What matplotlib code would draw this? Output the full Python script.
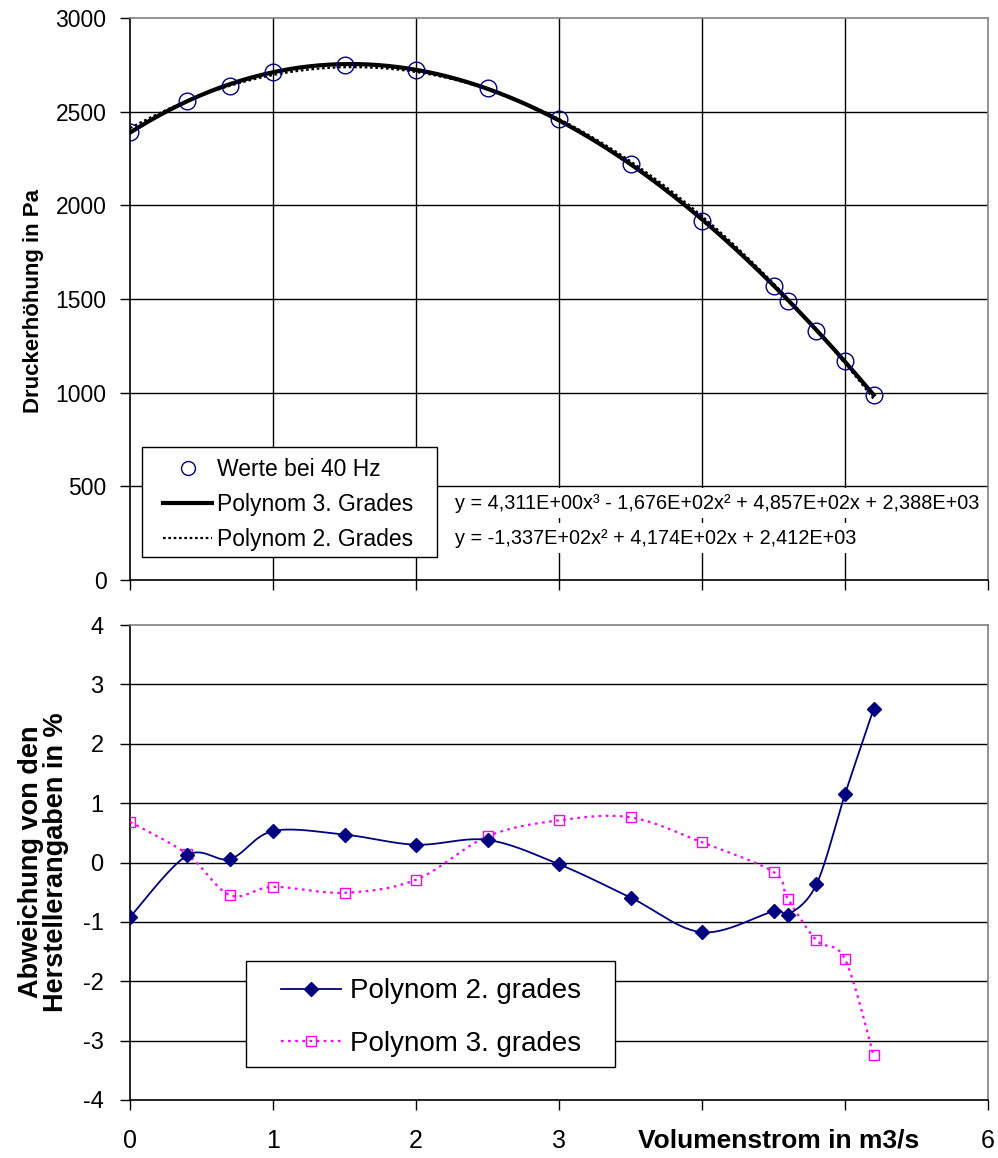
import numpy as np
import matplotlib
matplotlib.use("Agg")
import matplotlib.pyplot as plt
from matplotlib import font_manager
from matplotlib.lines import Line2D
from matplotlib.patches import Rectangle

# ---------------- data ----------------
volumenstrom = [0.0, 0.4, 0.7, 1.0, 1.5, 2.0, 2.5, 3.0, 3.5, 4.0, 4.5, 4.6, 4.8, 5.0, 5.2]
druck_40hz = [2390, 2557, 2638, 2712, 2749, 2722, 2626, 2461, 2221, 1916, 1569, 1489, 1329, 1169, 988]

# trendline coefficients (highest order first), as printed in the chart
coef_poly3 = [4.311e0, -1.676e2, 4.857e2, 2.388e3]
coef_poly2 = [-1.337e2, 4.174e2, 2.412e3]
eq_poly3 = "y = 4,311E+00x³ - 1,676E+02x² + 4,857E+02x + 2,388E+03"
eq_poly2 = "y = -1,337E+02x² + 4,174E+02x + 2,412E+03"

abw_poly2 = [-0.92, 0.12, 0.06, 0.53, 0.47, 0.30, 0.38, -0.03, -0.59, -1.175, -0.825, -0.88, -0.37, 1.15, 2.585]
abw_poly3 = [0.685, 0.14, -0.55, -0.41, -0.51, -0.29, 0.44, 0.71, 0.76, 0.34, -0.16, -0.61, -1.31, -1.63, -3.25]

top_yticks = [0, 500, 1000, 1500, 2000, 2500, 3000]
bot_yticks = [-4, -3, -2, -1, 0, 1, 2, 3, 4]
xticks = [0, 1, 2, 3, 4, 5, 6]
bot_xticklabels = ["0", "1", "2", "3", "", "", "6"]

# ---------------- helpers ----------------
def catmull_rom(xs, ys, n=30):
    """Excel-like smoothed line through the points (parametric Bezier / Catmull-Rom)."""
    P = np.column_stack([xs, ys]).astype(float)
    P = np.vstack([P[0], P, P[-1]])
    out = []
    t = np.linspace(0, 1, n, endpoint=False)
    for i in range(1, len(P) - 2):
        p0, p1, p2, p3 = P[i - 1], P[i], P[i + 1], P[i + 2]
        c1 = p1 + (p2 - p0) / 6.0
        c2 = p2 - (p3 - p1) / 6.0
        seg = ((1 - t) ** 3)[:, None] * p1 + (3 * (1 - t) ** 2 * t)[:, None] * c1 \
            + (3 * (1 - t) * t ** 2)[:, None] * c2 + (t ** 3)[:, None] * p2
        out.append(seg)
    out.append(P[-2][None, :])
    out = np.vstack(out)
    return out[:, 0], out[:, 1]

names = {f.name for f in font_manager.fontManager.ttflist}
FONT = "Liberation Sans" if "Liberation Sans" in names else "DejaVu Sans"
plt.rcParams["font.family"] = [FONT, "DejaVu Sans"]
if "Liberation Sans Narrow" in names:
    EQ_FONT, EQ_SIZE = ["Liberation Sans Narrow", FONT], 16.5
else:
    EQ_FONT, EQ_SIZE = [FONT], 14.3

W, H = 998, 1158
fig = plt.figure(figsize=(W / 100, H / 100), dpi=100)

def px_ax(l, t, r, b):
    return [l / W, 1 - b / H, (r - l) / W, (b - t) / H]

def frame_box(ax, l, t, r, b):
    rect = Rectangle((l / W, 1 - b / H), (r - l) / W, (b - t) / H, transform=fig.transFigure,
                     facecolor="white", edgecolor="black", lw=1.0, clip_on=False, zorder=8)
    ax.add_patch(rect)

GRAY = "#808080"
NAVY = "#000080"
MAG = "#FF00FF"

# ---------------- top panel ----------------
ax1 = fig.add_axes(px_ax(130, 18, 988, 580))
ax1.set_xlim(0, 6)
ax1.set_ylim(0, 3000)
ax1.set_xticks(xticks)
ax1.set_xticklabels([])
ax1.set_yticks(top_yticks)
ax1.set_yticklabels([str(v) for v in top_yticks], fontsize=16.5)
for v in xticks[1:-1]:
    ax1.axvline(v, color="black", lw=1.0, zorder=1)
for v in top_yticks[1:-1]:
    ax1.axhline(v, color="black", lw=1.0, zorder=1)
ax1.spines["left"].set_color("black")
ax1.spines["bottom"].set_color("black")
ax1.spines["top"].set_color(GRAY)
ax1.spines["right"].set_color(GRAY)
for s in ax1.spines.values():
    s.set_linewidth(1.2)
ax1.tick_params(direction="out", length=7, width=1.0, pad=10)

xx = np.linspace(volumenstrom[0], volumenstrom[-1], 300)
ax1.plot(xx, np.polyval(coef_poly2, xx), color="black", lw=1.6, ls=(0, (1.2, 1.2)), zorder=3)
ax1.plot(xx, np.polyval(coef_poly3, xx), color="black", lw=3.0, zorder=4)
ax1.plot(volumenstrom, druck_40hz, ls="none", marker="o", ms=12, mfc="none",
         mec=NAVY, mew=1.0, zorder=5)

frame_box(ax1, 142, 447, 437, 557)
h1 = [Line2D([], [], ls="none", marker="o", ms=10, mfc="none", mec=NAVY, mew=1.0),
      Line2D([], [], color="black", lw=3.0),
      Line2D([], [], color="black", lw=1.6, ls=(0, (1.2, 1.2)))]
leg1 = ax1.legend(h1, ["Werte bei 40 Hz", "Polynom 3. Grades", "Polynom 2. Grades"],
                  loc="upper left", bbox_to_anchor=(163 / W, 1 - 458.5 / H),
                  bbox_transform=fig.transFigure, borderaxespad=0, borderpad=0,
                  fontsize=16.5, handlelength=2.15, handletextpad=0.22, labelspacing=0.52,
                  frameon=False)
leg1.set_zorder(10)

for txt, yc in [(eq_poly3, 503), (eq_poly2, 538)]:
    fig.text(455 / W, 1 - yc / H, txt, ha="left", va="center", fontsize=EQ_SIZE,
             family=EQ_FONT, zorder=10,
             bbox=dict(facecolor="white", edgecolor="none", pad=4))

fig.text(34 / W, 1 - 301 / H, "Druckerhöhung in Pa", rotation=90, ha="center",
         va="center", fontsize=16, fontweight="bold")

# ---------------- bottom panel ----------------
ax2 = fig.add_axes(px_ax(130, 625, 988, 1100))
ax2.set_xlim(0, 6)
ax2.set_ylim(-4, 4)
ax2.set_xticks(xticks)
ax2.set_xticklabels(bot_xticklabels, fontsize=18)
ax2.set_yticks(bot_yticks)
ax2.set_yticklabels([str(v) if v >= 0 else "-" + str(-v) for v in bot_yticks], fontsize=17)
for v in bot_yticks[1:-1]:
    ax2.axhline(v, color="black", lw=1.0, zorder=1)
ax2.spines["left"].set_color("black")
ax2.spines["bottom"].set_color("black")
ax2.spines["top"].set_color(GRAY)
ax2.spines["right"].set_color(GRAY)
for s in ax2.spines.values():
    s.set_linewidth(1.2)
ax2.tick_params(direction="out", length=7, width=1.0)
ax2.tick_params(axis="y", pad=12)
ax2.tick_params(axis="x", pad=14)

sx3, sy3 = catmull_rom(volumenstrom, abw_poly3)
ax2.plot(sx3, sy3, color=MAG, lw=1.6, ls=(0, (1.2, 2.0)), zorder=3)
ax2.plot(volumenstrom, abw_poly3, ls="none", marker="s", ms=6.5, mfc="none", mec=MAG,
         mew=1.0, zorder=4)
sx2, sy2 = catmull_rom(volumenstrom, abw_poly2)
ax2.plot(sx2, sy2, color=NAVY, lw=1.3, zorder=5)
ax2.plot(volumenstrom, abw_poly2, ls="none", marker="D", ms=6.8, mfc=NAVY, mec=NAVY,
         zorder=6)

frame_box(ax2, 246, 961, 615, 1067)
h2 = [Line2D([], [], color=NAVY, lw=1.3, marker="D", ms=6.8, mfc=NAVY, mec=NAVY),
      Line2D([], [], color=MAG, lw=1.6, ls=(0, (1.2, 2.0)), marker="s", ms=6.5,
             mfc="none", mec=MAG)]
leg2 = ax2.legend(h2, ["Polynom 2. grades", "Polynom 3. grades"],
                  loc="upper left", bbox_to_anchor=(281 / W, 1 - 978.5 / H),
                  bbox_transform=fig.transFigure, borderaxespad=0, borderpad=0,
                  fontsize=20, handlelength=2.15, handletextpad=0.32, labelspacing=0.96,
                  frameon=False)
leg2.set_zorder(10)

fig.text(44 / W, 1 - 862 / H, "Abweichung von den\nHerstellerangaben in %", rotation=90,
         ha="center", va="center", fontsize=19.5, fontweight="bold", linespacing=0.95,
         multialignment="center")
fig.text(779 / W, 1 - 1141 / H, "Volumenstrom in m3/s", ha="center", va="center",
         fontsize=19, fontweight="bold")

fig.savefig("out.png", dpi=100)
